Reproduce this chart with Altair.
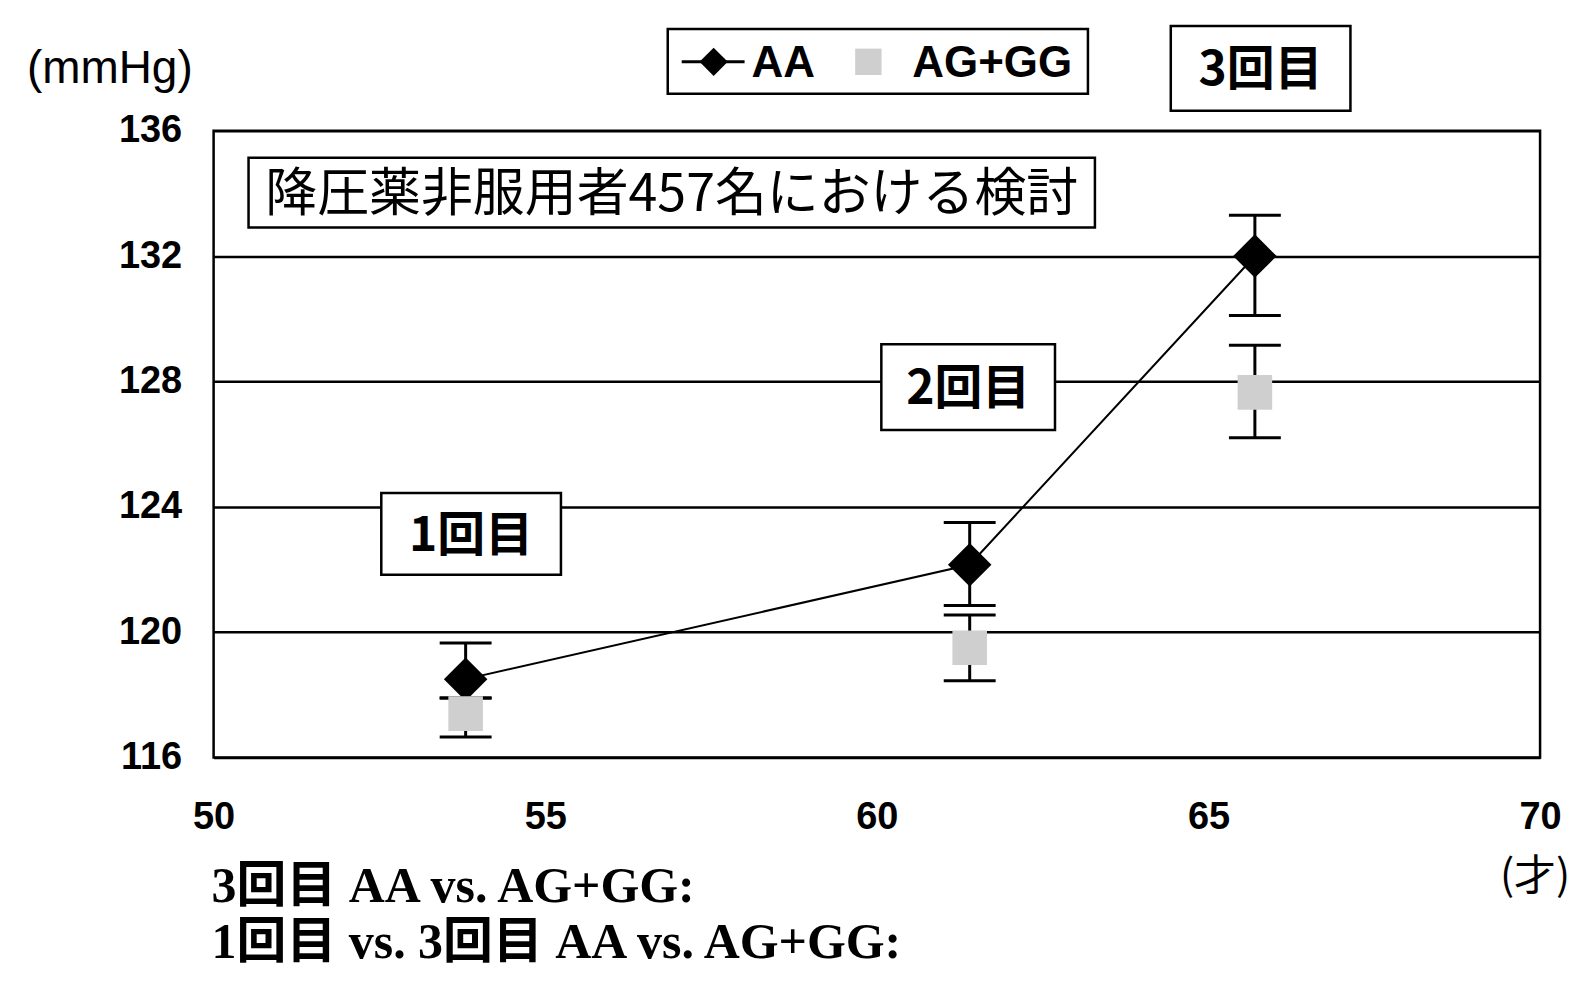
import altair as alt
import pandas as pd

# ---- data ----
ages = [53.8, 61.4, 65.7]
aa_mean = [118.5, 122.15, 132.0]
aa_low = [117.9, 120.85, 130.1]
aa_high = [119.65, 123.5, 133.3]
ag_mean = [117.4, 119.5, 127.65]
ag_low = [116.65, 118.45, 126.2]
ag_high = [117.9, 120.55, 129.15]

x_ticks = [50, 55, 60, 65, 70]
y_ticks = [116, 120, 124, 128, 132, 136]

series_names = ["AA", "AG+GG"]
title_text = "降圧薬非服用者457名における検討"
visit_labels = ["1回目", "2回目", "3回目"]
y_unit = "(mmHg)"
x_unit = "(才)"
note_lines = ["3回目 AA vs. AG+GG:", "1回目 vs. 3回目 AA vs. AG+GG:"]

# ---- styling / layout ----
W, H = 1329, 628
GRAY = "#cfcfcf"
NUM_FONT = "Liberation Sans"
JP_FONT = "Noto Sans CJK JP"
SERIF = "'Liberation Serif', 'Noto Sans CJK JP'"

aa = pd.DataFrame({"age": ages, "mean": aa_mean, "low": aa_low, "high": aa_high})
ag = pd.DataFrame({"age": ages, "mean": ag_mean, "low": ag_low, "high": ag_high})

xs = alt.Scale(domain=[50, 70], nice=False, zero=False)
ys = alt.Scale(domain=[116, 136], nice=False, zero=False)

x_axis = alt.Axis(values=x_ticks, title=None, grid=False, ticks=False, domain=False,
                  labelFont=NUM_FONT, labelFontSize=38, labelFontWeight="bold",
                  labelPadding=41, labelFlush=False, labelOverlap=False,
                  labelColor="black", format="d")
y_axis = alt.Axis(values=y_ticks, title=None, grid=True, gridColor="black",
                  gridWidth=2.5, gridOpacity=1, ticks=False, domain=False,
                  labelFont=NUM_FONT, labelFontSize=38, labelFontWeight="bold",
                  labelPadding=32, labelFlush=False, labelOverlap=False,
                  labelColor="black", format="d")


def X(f):
    return alt.X(f, type="quantitative", scale=xs, axis=x_axis)


def Y(f):
    return alt.Y(f, type="quantitative", scale=ys, axis=y_axis)


layers = []
# AA series
layers.append(alt.Chart(aa).mark_line(color="black", strokeWidth=2).encode(x=X("age"), y=Y("mean")))
layers.append(alt.Chart(aa).mark_rule(color="black", strokeWidth=3).encode(x=X("age"), y=Y("low"), y2="high"))
for f in ["low", "high"]:
    layers.append(alt.Chart(aa).mark_tick(orient="horizontal", color="black", size=52, thickness=3, opacity=1)
                  .encode(x=X("age"), y=Y(f)))
layers.append(alt.Chart(aa).mark_point(shape="diamond", filled=True, color="black", size=1900, opacity=1)
              .encode(x=X("age"), y=Y("mean")))
# AG+GG series
layers.append(alt.Chart(ag).mark_rule(color="black", strokeWidth=3).encode(x=X("age"), y=Y("low"), y2="high"))
for f in ["low", "high"]:
    layers.append(alt.Chart(ag).mark_tick(orient="horizontal", color="black", size=52, thickness=3, opacity=1)
                  .encode(x=X("age"), y=Y(f)))
layers.append(alt.Chart(ag).mark_point(shape="square", filled=True, color=GRAY, size=1200, opacity=1)
              .encode(x=X("age"), y=Y("mean")))

dummy = pd.DataFrame({"d": [0]})


def box(x0, x1, y0, y1):
    return alt.Chart(dummy).mark_rect(fill="white", stroke="black", strokeWidth=2.5).encode(
        x=alt.value(x0), x2=alt.value(x1), y=alt.value(y0), y2=alt.value(y1))


def label(txt, x, y, font, size, weight="normal", align="center"):
    return alt.Chart(dummy).mark_text(text=txt, font=font, fontSize=size, fontWeight=weight,
                                      align=align, baseline="middle", color="black").encode(
        x=alt.value(x), y=alt.value(y))


# title box
layers.append(box(35, 883, 27, 97))
layers.append(label(title_text, 459, 64, JP_FONT, 52))
# visit boxes
layers.append(box(168, 348, 363, 445))
layers.append(label(visit_labels[0], 258, 407, JP_FONT, 48, "bold"))
layers.append(box(669, 843, 214, 300))
layers.append(label(visit_labels[1], 756, 260, JP_FONT, 48, "bold"))
layers.append(box(959, 1139, -105, -20))
layers.append(label(visit_labels[2], 1049, -60, JP_FONT, 48, "bold"))
# legend
layers.append(box(455, 876, -102, -37))
layers.append(alt.Chart(dummy).mark_rule(color="black", strokeWidth=3).encode(
    x=alt.value(469), x2=alt.value(532), y=alt.value(-69), y2=alt.value(-69)))
layers.append(alt.Chart(dummy).mark_point(shape="diamond", filled=True, color="black", size=800, opacity=1)
              .encode(x=alt.value(501), y=alt.value(-69)))
layers.append(label(series_names[0], 539, -67, NUM_FONT, 44, "bold", "left"))
layers.append(alt.Chart(dummy).mark_point(shape="square", filled=True, color=GRAY, size=700, opacity=1)
              .encode(x=alt.value(656), y=alt.value(-69)))
layers.append(label(series_names[1], 700, -67, NUM_FONT, 44, "bold", "left"))
# units
layers.append(label(y_unit, -104, -62, NUM_FONT, 46))
layers.append(label(x_unit, 1324, 748, JP_FONT, 42))
# notes below
layers.append(label(note_lines[0], -2, 758, SERIF, 50, "bold", "left"))
layers.append(label(note_lines[1], -2, 814, SERIF, 50, "bold", "left"))

chart = alt.layer(*layers).properties(
    width=W, height=H,
    autosize=alt.AutoSizeParams(type="none"),
    padding={"left": 206, "top": 122, "right": 37, "bottom": 214},
    background="white",
).configure_view(stroke="black", strokeWidth=2.5)

chart.save("out.html", embed_options={"renderer": "svg", "actions": False})
